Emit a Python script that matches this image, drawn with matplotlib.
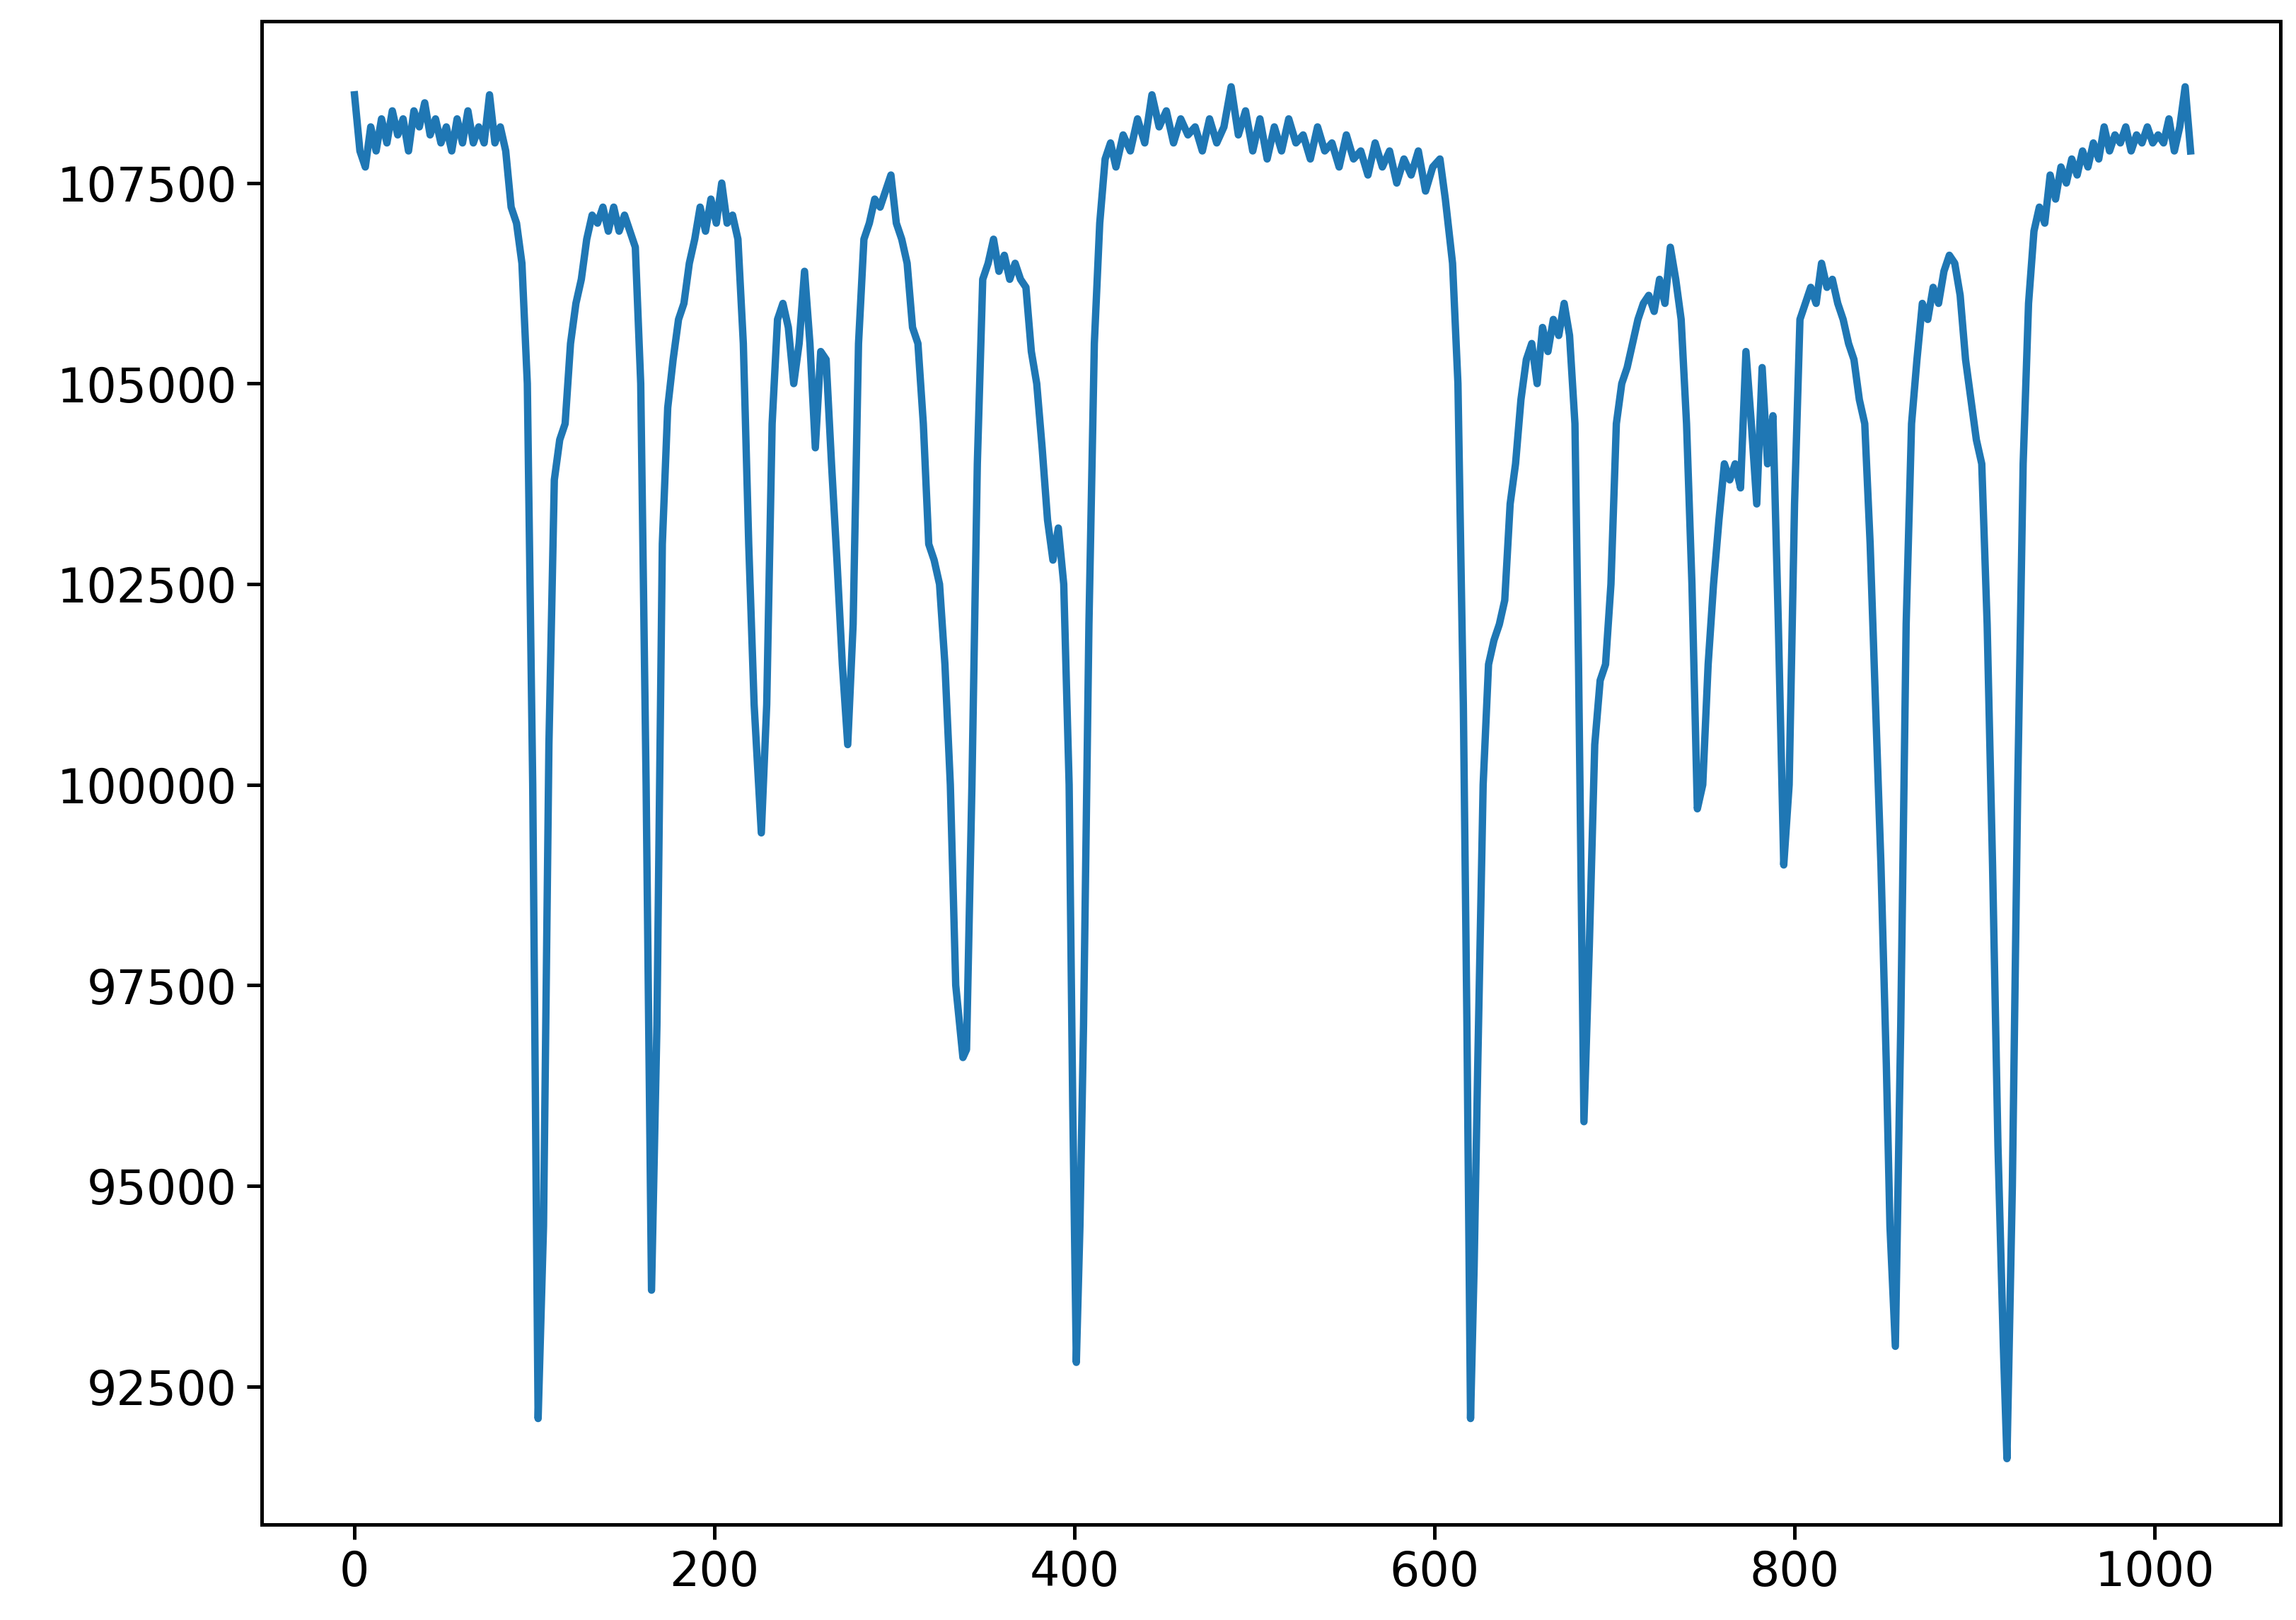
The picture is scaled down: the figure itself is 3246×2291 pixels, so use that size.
import matplotlib
matplotlib.use("Agg")
import matplotlib.pyplot as plt

# sample index and reading, picked off the reference curve
idx = [0, 3, 6, 9, 12, 15, 18, 21, 24, 27, 30, 33, 36, 39, 42, 45, 48, 51, 54, 57,
       60, 63, 66, 69, 72, 75, 78, 81, 84, 87, 90, 93, 96, 99, 102, 105, 108, 111, 114, 117,
       120, 123, 126, 129, 132, 135, 138, 141, 144, 147, 150, 153, 156, 159, 162, 165, 168, 171, 174, 177,
       180, 183, 186, 189, 192, 195, 198, 201, 204, 207, 210, 213, 216, 219, 222, 226, 229, 232, 235, 238,
       241, 244, 247, 250, 253, 256, 259, 262, 265, 268, 271, 274, 277, 280, 283, 286, 289, 292, 295, 298,
       301, 304, 307, 310, 313, 316, 319, 322, 325, 328, 331, 334, 338, 340, 343, 346, 349, 352, 355, 358,
       361, 364, 367, 370, 373, 376, 379, 382, 385, 388, 391, 394, 397, 399, 401, 403, 405, 408, 411, 414,
       417, 420, 423, 427, 431, 435, 439, 443, 447, 451, 455, 459, 463, 467, 471, 475, 479, 483, 487, 491,
       495, 499, 503, 507, 511, 515, 519, 523, 527, 531, 535, 539, 543, 547, 551, 555, 559, 563, 567, 571,
       575, 579, 583, 587, 591, 595, 599, 603, 606, 610, 613, 616, 618, 620, 622, 624, 627, 630, 633, 636,
       639, 642, 645, 648, 651, 654, 657, 660, 663, 666, 669, 672, 675, 678, 680, 683, 686, 689, 692, 695,
       698, 701, 704, 707, 710, 713, 716, 719, 722, 725, 728, 731, 734, 737, 740, 743, 746, 749, 752, 755,
       758, 761, 764, 767, 770, 773, 776, 779, 782, 785, 788, 791, 794, 797, 800, 803, 806, 809, 812, 815,
       818, 821, 824, 827, 830, 833, 836, 839, 842, 845, 848, 851, 853, 856, 859, 862, 865, 868, 871, 874,
       877, 880, 883, 886, 889, 892, 895, 898, 901, 904, 907, 910, 913, 916, 918, 921, 924, 927, 930, 933,
       936, 939, 942, 945, 948, 951, 954, 957, 960, 963, 966, 969, 972, 975, 978, 981, 984, 987, 990, 993,
       996, 999, 1002, 1005, 1008, 1011, 1014, 1017, 1020]

reading = [108600, 107900, 107700, 108200, 107900, 108300, 108000, 108400, 108100, 108300, 107900, 108400, 108200, 108500, 108100, 108300, 108000, 108200, 107900, 108300,
           108000, 108400, 108000, 108200, 108000, 108600, 108000, 108200, 107900, 107200, 107000, 106500, 105000, 100000, 92100, 94500, 100500, 103800, 104300, 104500,
           105500, 106000, 106300, 106800, 107100, 107000, 107200, 106900, 107200, 106900, 107100, 106900, 106700, 105000, 100000, 93700, 97000, 103000, 104700, 105300,
           105800, 106000, 106500, 106800, 107200, 106900, 107300, 107000, 107500, 107000, 107100, 106800, 105500, 103000, 101000, 99400, 101000, 104500, 105800, 106000,
           105700, 105000, 105500, 106400, 105500, 104200, 105400, 105300, 104000, 102800, 101500, 100500, 102000, 105500, 106800, 107000, 107300, 107200, 107400, 107600,
           107000, 106800, 106500, 105700, 105500, 104500, 103000, 102800, 102500, 101500, 100000, 97500, 96600, 96700, 100000, 104000, 106300, 106500, 106800, 106400,
           106600, 106300, 106500, 106300, 106200, 105400, 105000, 104200, 103300, 102800, 103200, 102500, 100000, 96000, 92800, 94500, 97000, 102000, 105500, 107000,
           107800, 108000, 107700, 108100, 107900, 108300, 108000, 108600, 108200, 108400, 108000, 108300, 108100, 108200, 107900, 108300, 108000, 108200, 108700, 108100,
           108400, 107900, 108300, 107800, 108200, 107900, 108300, 108000, 108100, 107800, 108200, 107900, 108000, 107700, 108100, 107800, 107900, 107600, 108000, 107700,
           107900, 107500, 107800, 107600, 107900, 107400, 107700, 107800, 107300, 106500, 105000, 101000, 97000, 92100, 94000, 96500, 100000, 101500, 101800, 102000,
           102300, 103500, 104000, 104800, 105300, 105500, 105000, 105700, 105400, 105800, 105600, 106000, 105600, 104500, 101500, 95800, 98000, 100500, 101300, 101500,
           102500, 104500, 105000, 105200, 105500, 105800, 106000, 106100, 105900, 106300, 106000, 106700, 106300, 105800, 104500, 102500, 99700, 100000, 101500, 102500,
           103300, 104000, 103800, 104000, 103700, 105400, 104500, 103500, 105200, 104000, 104600, 102000, 99000, 100000, 103500, 105800, 106000, 106200, 106000, 106500,
           106200, 106300, 106000, 105800, 105500, 105300, 104800, 104500, 103000, 101000, 99000, 96500, 94500, 93000, 97000, 102000, 104500, 105300, 106000, 105800,
           106200, 106000, 106400, 106600, 106500, 106100, 105300, 104800, 104300, 104000, 102000, 99000, 95500, 93000, 91600, 95000, 100000, 104000, 106000, 106900,
           107200, 107000, 107600, 107300, 107700, 107500, 107800, 107600, 107900, 107700, 108000, 107800, 108200, 107900, 108100, 108000, 108200, 107900, 108100, 108000,
           108200, 108000, 108100, 108000, 108300, 107900, 108200, 108700, 107900]

fig = plt.figure(figsize=(10.823, 7.637), dpi=300)
ax = fig.add_axes([0.114, 0.059, 0.879, 0.928])
ax.plot(idx, reading, color="#1f77b4", linewidth=2.5)
ax.set_xlim(-51.5, 1070)
ax.set_ylim(90780, 109520)
ax.set_yticks([92500, 95000, 97500, 100000, 102500, 105000, 107500])
ax.tick_params(labelsize=16, width=1.2, length=5)
for s in ax.spines.values():
    s.set_linewidth(1.2)
fig.savefig("out.png", dpi=300)
